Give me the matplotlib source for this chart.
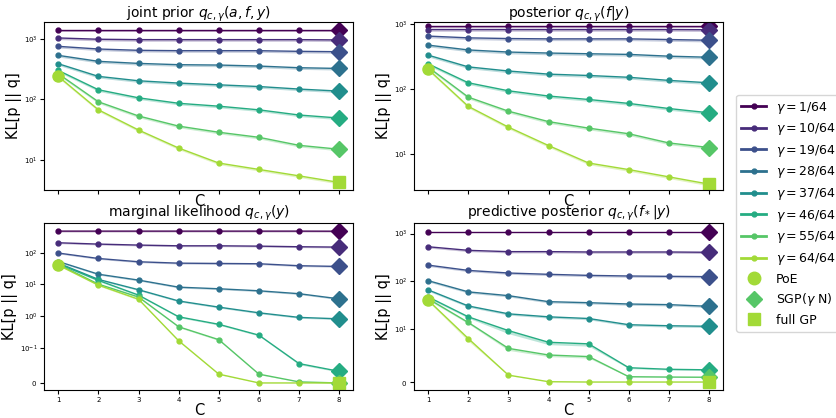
import numpy as np
import matplotlib.pyplot as plt
from matplotlib.lines import Line2D
from matplotlib.ticker import NullLocator

C = [1, 2, 3, 4, 5, 6, 7, 8]
gammas = ["1/64", "10/64", "19/64", "28/64", "37/64", "46/64", "55/64", "64/64"]

# KL values, one row per gamma
joint_prior = [
    [1410, 1410, 1410, 1410, 1410, 1410, 1410, 1410],
    [1040, 990, 975, 975, 975, 975, 975, 965],
    [755, 682, 649, 640, 640, 640, 624, 615],
    [535, 426, 394, 375, 370, 356, 334, 325],
    [389, 240, 203, 186, 174, 163, 148, 137],
    [301, 144, 106, 86, 77, 67, 55, 49],
    [265, 91, 53, 36, 28.5, 23.5, 17.3, 14.9],
    [240, 67, 31, 15.6, 8.8, 6.9, 5.4, 4.2],
]
posterior = [
    [930, 930, 930, 930, 930, 930, 930, 930],
    [831, 831, 831, 831, 831, 831, 831, 825],
    [658, 618, 603, 596, 596, 596, 582, 568],
    [477, 402, 373, 360, 351, 343, 322, 310],
    [334, 220, 190, 170, 162, 152, 136, 125],
    [245, 125, 94, 78, 69, 60, 50, 43],
    [218, 75, 45.5, 31.4, 24.9, 20.4, 14.7, 12.5],
    [202, 54, 25.8, 13.4, 7.2, 5.7, 4.4, 3.4],
]
marginal = [
    [483, 483, 483, 483, 483, 483, 483, 480],
    [207, 188, 175, 166, 166, 162, 155, 151],
    [98, 66, 52, 47, 46, 45, 39, 37],
    [53, 21, 13.7, 8.2, 7.3, 6.3, 5.1, 3.5],
    [47, 14.4, 6.8, 3.0, 1.92, 1.27, 0.91, 0.82],
    [45, 13.4, 4.6, 0.95, 0.55, 0.25, 0.055, 0.033],
    [43, 10.2, 4.0, 0.46, 0.18, 0.025, 0.003, 0.0],
    [41, 9.5, 3.4, 0.166, 0.025, 0.0, 0.0, 0.0],
]
predictive = [
    [1080, 1080, 1080, 1080, 1080, 1080, 1080, 1080],
    [529, 445, 418, 418, 411, 411, 411, 405],
    [218, 169, 149, 140, 133, 129, 127, 125],
    [103, 60, 50, 37.4, 35.6, 33.4, 32.4, 29.9],
    [66, 30.4, 20.8, 18, 16.6, 12.3, 11.7, 11.4],
    [47, 18, 9.7, 7.5, 7.2, 2.7, 2.4, 2.3],
    [43, 13.7, 6.35, 5.1, 4.8, 1.0, 0.94, 0.9],
    [40, 8.2, 1.3, 0.06, 0.0, 0.0, 0.0, 0.0],
]

panels = [
    ("joint prior $q_{c,\\gamma}(a,f,y)$", joint_prior, None),
    ("posterior $q_{c,\\gamma}(f|y)$", posterior, None),
    ("marginal likelihood $q_{c,\\gamma}(y)$", marginal, 0.1),
    ("predictive posterior $q_{c,\\gamma}(f_*|y)$", predictive, 10),
]

colors = plt.cm.viridis(np.linspace(0, 0.86, len(gammas)))

fig, axes = plt.subplots(2, 2, figsize=(8.36, 4.18), dpi=100, sharex=True)
fig.subplots_adjust(left=0.053, right=0.865, top=0.947, bottom=0.067,
                    wspace=0.197, hspace=0.197)

for ax, (title, data, linthresh) in zip(axes.flat, panels):
    for i, vals in enumerate(data):
        vals = np.array(vals, dtype=float)
        ax.fill_between(C, vals * 0.94, vals, color=colors[i], alpha=0.3, lw=0)
        ax.plot(C, vals, "-o", color=colors[i], lw=1.0, ms=3.5)
        if i < len(data) - 1:
            ax.plot(C[-1], vals[-1], "D", color=colors[i], ms=8)
        else:
            ax.plot(C[-1], vals[-1], "s", color=colors[i], ms=8)
    ax.plot(C[0], data[-1][0], "o", color=colors[-1], ms=8)
    if linthresh is None:
        ax.set_yscale("log")
    else:
        ax.set_yscale("symlog", linthresh=linthresh)
    ax.yaxis.set_minor_locator(NullLocator())
    ax.set_title(title, fontsize=10, pad=3)
    ax.set_xlabel("C", fontsize=10.5, labelpad=0)
    ax.set_ylabel("KL[p || q]", fontsize=10.5, labelpad=1)
    ax.tick_params(labelsize=5, length=3, pad=2)
    ax.set_xticks(C)
    ax.tick_params(axis="x", labelbottom=True if ax in axes[1] else False)

axes[0, 0].set_ylim(3.2, 1900)
axes[0, 1].set_ylim(2.8, 1080)
axes[1, 0].set_ylim(-0.02, 900)
axes[1, 1].set_ylim(-1.5, 1700)

handles = [Line2D([], [], color=colors[i], marker="o", ms=3.5, lw=2,
                  label="$\\gamma = %s$" % g) for i, g in enumerate(gammas)]
handles.append(Line2D([], [], ls="", marker="o", ms=9, color=colors[-1], label="PoE"))
handles.append(Line2D([], [], ls="", marker="D", ms=8, color=colors[6], label="SGP($\\gamma$ N)"))
handles.append(Line2D([], [], ls="", marker="s", ms=8, color=colors[-1], label="full GP"))
fig.legend(handles=handles, loc="center left", bbox_to_anchor=(0.873, 0.49),
           fontsize=9, labelspacing=0.45)

fig.savefig("out.png", dpi=100)
